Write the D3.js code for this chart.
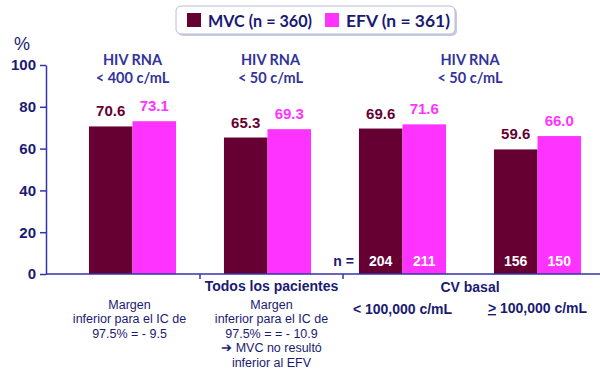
<!DOCTYPE html>
<html><head><meta charset="utf-8">
<script src="https://cdn.jsdelivr.net/npm/d3@7"></script>
<style>body{margin:0;background:#fff}svg{display:block}</style>
</head><body>
<svg id="c" width="600" height="374"></svg>
<script>
const groups = ["g1","g2","g3","g4"];
const seriesNames = ["MVC (n = 360)","EFV (n = 361)"];
const mvcValues = [70.6, 65.3, 69.6, 59.6];
const efvValues = [73.1, 69.3, 71.6, 66.0];
const nMvc = [null, null, 204, 156];
const nEfv = [null, null, 211, 150];
const yTicks = [0,20,40,60,80,100];
const headers = [["HIV RNA","< 400 c/mL"],["HIV RNA","< 50 c/mL"],["HIV RNA","< 50 c/mL"]];
const margen1 = ["Margen","inferior para el IC de","97.5% = - 9.5"];
const margen2 = ["Margen","inferior para el IC de","97.5% = = - 10.9","\u2794 MVC no resultó","inferior al EFV"];
const colors = ["#660033","#ff33ff"];
const navy = "#1a1a73";
const headColor = "#333399";

const svg = d3.select("#c");
const y = d3.scaleLinear().domain([0,100]).range([274,65]);
const x0 = d3.scaleBand().domain(groups).range([65,605]).paddingInner(0.355).paddingOuter(0.1775);
const x1 = d3.scaleBand().domain([0,1]).range([0,x0.bandwidth()]);
const cx = g => x0(g) + x0.bandwidth()/2;

// bars
const data = groups.map((g,i)=>({g, vals:[mvcValues[i], efvValues[i]], ns:[nMvc[i], nEfv[i]]}));
const gg = svg.selectAll("g.grp").data(data).join("g").attr("class","grp")
  .attr("transform", d=>`translate(${x0(d.g)},0)`);
gg.selectAll("rect").data(d=>d.vals.map((v,k)=>({v,k}))).join("rect")
  .attr("x", d=>x1(d.k)).attr("width", x1.bandwidth())
  .attr("y", d=>y(d.v)).attr("height", d=>y(0)-y(d.v))
  .attr("fill", d=>colors[d.k]);
gg.selectAll("text.val").data(d=>d.vals.map((v,k)=>({v,k}))).join("text").attr("class","val")
  .attr("x", d=>x1(d.k)+x1.bandwidth()/2).attr("y", d=>y(d.v)-10)
  .attr("text-anchor","middle").attr("font-family","Liberation Sans, Arial").attr("font-weight","bold")
  .attr("font-size",15).attr("fill", d=>colors[d.k]).text(d=>d.v.toFixed(1));
gg.selectAll("text.n").data(d=>d.ns.map((v,k)=>({v,k})).filter(e=>e.v!=null)).join("text").attr("class","n")
  .attr("x", d=>x1(d.k)+x1.bandwidth()/2).attr("y", 266)
  .attr("text-anchor","middle").attr("font-family","Liberation Sans, Arial").attr("font-weight","bold")
  .attr("font-size",14).attr("fill","#fff").text(d=>d.v);
svg.append("text").attr("x", x0("g3")-5).attr("y",266).attr("text-anchor","end")
  .attr("font-family","Liberation Sans, Arial").attr("font-weight","bold").attr("font-size",14)
  .attr("fill",navy).text("n =");

// y axis
const yAxis = svg.append("g").attr("transform","translate(46,0)")
  .call(d3.axisLeft(y).tickValues(yTicks).tickSize(6).tickSizeOuter(0));
yAxis.select(".domain").attr("stroke","#3333aa").attr("stroke-width",1.5);
yAxis.selectAll(".tick line").attr("stroke","#3333aa").attr("stroke-width",1.5);
yAxis.selectAll(".tick text").attr("font-family","Liberation Sans, Arial").attr("font-weight","bold")
  .attr("font-size",15).attr("fill",navy).attr("x",-10);
svg.append("text").attr("x",22).attr("y",50).attr("text-anchor","middle")
  .attr("font-family","Liberation Sans, Arial").attr("font-size",18).attr("fill",navy).text("%");

// x axis line and separators
svg.append("line").attr("x1",46).attr("x2",600).attr("y1",y(0)).attr("y2",y(0))
  .attr("stroke","#3333aa").attr("stroke-width",1.5);
[ (cx("g1")+cx("g2"))/2, (cx("g2")+cx("g3"))/2 + 8 ].forEach(px=>{
  svg.append("line").attr("x1",px).attr("x2",px).attr("y1",y(0)).attr("y2",y(0)+5)
    .attr("stroke","#3333aa").attr("stroke-width",1.5);
});

// headers
const hx = [cx("g1"), cx("g2")+3, (cx("g3")+cx("g4"))/2];
headers.forEach((lines,i)=>{
  const t = svg.append("text").attr("text-anchor","middle")
    .attr("font-family","Lato, Open Sans, sans-serif").attr("font-weight","bold").attr("font-size",14.5)
    .attr("fill",headColor);
  lines.forEach((s,j)=>{
    t.append("tspan").attr("x",hx[i]).attr("y",65+j*17.5).text(s);
  });
});

// bottom labels
const bold = (xx,yy,t)=>svg.append("text").attr("x",xx).attr("y",yy).attr("text-anchor","middle")
  .attr("font-family","Liberation Sans, Arial").attr("font-weight","bold").attr("font-size",14)
  .attr("fill",navy).text(t);
bold(cx("g2")+4,291,"Todos los pacientes");
bold((cx("g3")+cx("g4"))/2,292,"CV basal");
bold(cx("g3"),314,"< 100,000 c/mL");
const ge = bold(cx("g4"),313,"");
ge.append("tspan").attr("text-decoration","underline").text(">");
ge.append("tspan").text(" 100,000 c/mL");

const plain = (xx,lines)=>{
  const t = svg.append("text").attr("text-anchor","middle")
    .attr("font-family","Liberation Sans, Arial").attr("font-size",12.5).attr("fill",navy);
  lines.forEach((s,j)=>{
    t.append("tspan").attr("x",xx).attr("y",309+j*14.4).text(s);
  });
};
plain(cx("g1")-3,margen1);
plain(cx("g2")+4,margen2);

// legend
const lg = svg.append("g");
lg.append("rect").attr("x",176).attr("y",6).attr("width",279).attr("height",28).attr("rx",5)
  .attr("fill","#c8cbe0").attr("transform","translate(2,2)");
lg.append("rect").attr("x",176).attr("y",6).attr("width",279).attr("height",28).attr("rx",5)
  .attr("fill","#fff").attr("stroke","#b8bcd8").attr("stroke-width",1);
const lx = [187, 325];
seriesNames.forEach((s,i)=>{
  lg.append("rect").attr("x",lx[i]).attr("y",13).attr("width",14).attr("height",14).attr("fill",colors[i]);
  lg.append("text").attr("x",lx[i]+21).attr("y",27).attr("font-family","Lato, Open Sans, sans-serif")
    .attr("font-weight","bold").attr("font-size",17).attr("textLength",104).attr("lengthAdjust","spacingAndGlyphs")
    .attr("fill",navy).text(s);
});
</script>
</body></html>
